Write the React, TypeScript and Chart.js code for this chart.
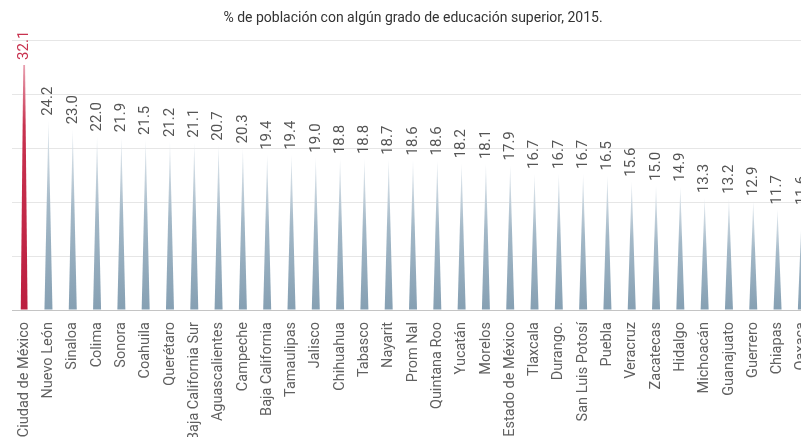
import { useEffect, useRef } from "react";
import { Chart, registerables } from "chart.js";

Chart.register(...registerables);

const title = "% de población con algún grado de educación superior, 2015.";

const categories = [
  "Ciudad de México", "Nuevo León", "Sinaloa", "Colima", "Sonora", "Coahuila",
  "Querétaro", "Baja California Sur", "Aguascalientes", "Campeche", "Baja California",
  "Tamaulipas", "Jalisco", "Chihuahua", "Tabasco", "Nayarit", "Prom Nal",
  "Quintana Roo", "Yucatán", "Morelos", "Estado de México", "Tlaxcala", "Durango.",
  "San Luis Potosí", "Puebla", "Veracruz", "Zacatecas", "Hidalgo", "Michoacán",
  "Guanajuato", "Guerrero", "Chiapas", "Oaxaca",
];

const values = [
  32.1, 24.2, 23.0, 22.0, 21.9, 21.5, 21.2, 21.1, 20.7, 20.3, 19.4,
  19.4, 19.0, 18.8, 18.8, 18.7, 18.6, 18.6, 18.2, 18.1, 17.9, 16.7,
  16.7, 16.7, 16.5, 15.6, 15.0, 14.9, 13.3, 13.2, 12.9, 11.7, 11.6,
];

const highlighted = "Ciudad de México";

const yMin = -2.5;
const yMax = 35.5;
const gridLines = 5;

const FONT = "Roboto, 'Noto Sans', sans-serif";

const needlePlugin = {
  id: "needles",
  afterDatasetsDraw(chart: any) {
    const meta = chart.getDatasetMeta(0);
    const ctx: CanvasRenderingContext2D = chart.ctx;
    ctx.save();
    meta.data.forEach((el: any, i: number) => {
      const { x, y, base, width } = el.getProps(["x", "y", "base", "width"], true);
      const hi = categories[i] === highlighted;
      const grad = ctx.createLinearGradient(0, base, 0, y);
      if (hi) {
        grad.addColorStop(0, "#bc1f40");
        grad.addColorStop(0.75, "#c8324f");
        grad.addColorStop(1, "#e8a0b0");
      } else {
        grad.addColorStop(0, "#86a0b3");
        grad.addColorStop(0.55, "#a3b8c7");
        grad.addColorStop(1, "#e6ecf1");
      }
      ctx.fillStyle = grad;
      ctx.beginPath();
      if (hi) {
        const bw = width * 0.85;
        const tw = 1.8;
        ctx.moveTo(x - bw / 2, base);
        ctx.lineTo(x - tw / 2, y);
        ctx.lineTo(x + tw / 2, y);
        ctx.lineTo(x + bw / 2, base);
      } else {
        ctx.moveTo(x - width / 2, base);
        ctx.lineTo(x, y);
        ctx.lineTo(x + width / 2, base);
      }
      ctx.closePath();
      ctx.fill();

      ctx.save();
      ctx.translate(x, y - 5);
      ctx.rotate(-Math.PI / 2);
      ctx.font = `15px ${FONT}`;
      ctx.fillStyle = hi ? "#c8324f" : "#555555";
      ctx.textAlign = "left";
      ctx.textBaseline = "middle";
      ctx.fillText(values[i].toFixed(1), 0, 0);
      ctx.restore();
    });
    ctx.restore();
  },
};

export default function App() {
  const ref = useRef<HTMLCanvasElement | null>(null);

  useEffect(() => {
    if (!ref.current) return;
    const gridValues = Array.from({ length: gridLines + 1 }, (_, i) => yMin + (i * (yMax - yMin)) / gridLines);
    const chart = new Chart(ref.current, {
      type: "bar",
      data: {
        labels: categories,
        datasets: [
          {
            data: values,
            backgroundColor: "rgba(0,0,0,0)",
            borderWidth: 0,
            barThickness: 8,
            base: yMin,
          } as any,
        ],
      },
      plugins: [needlePlugin],
      options: {
        responsive: false,
        animation: false,
        layout: { padding: { left: 12, right: 2, top: 0, bottom: 0 } },
        plugins: {
          legend: { display: false },
          tooltip: { enabled: false },
          title: {
            display: true,
            text: title,
            color: "#333333",
            font: { family: FONT, size: 14, weight: "normal" },
            padding: { top: 10, bottom: 14 },
          },
        },
        scales: {
          x: {
            type: "category",
            offset: true,
            grid: { display: false },
            border: { display: false },
            ticks: {
              autoSkip: false,
              minRotation: 90,
              maxRotation: 90,
              padding: 4,
              color: "#606060",
              font: { family: FONT, size: 14.5 },
            },
            afterFit: (s: any) => {
              s.height = 127;
              s.paddingLeft = 0;
              s.paddingRight = 0;
            },
          },
          y: {
            min: yMin,
            max: yMax,
            ticks: { display: false },
            border: { display: false },
            grid: {
              drawTicks: false,
              color: (c: any) => (c.index === 0 ? "#c4c4c4" : "#e6e6e6"),
              lineWidth: 1,
            },
            afterFit: (s: any) => {
              s.width = 0;
              s.paddingTop = 0;
              s.paddingBottom = 0;
            },
            afterBuildTicks: (s: any) => {
              s.ticks = gridValues.map((v) => ({ value: v }));
            },
          },
        },
      } as any,
    });
    return () => chart.destroy();
  }, []);

  return (
    <div
      style={{
        position: "fixed",
        left: 0,
        top: 0,
        width: 801,
        height: 437,
        overflow: "hidden",
        background: "#ffffff",
      }}
    >
      <canvas ref={ref} width={816} height={437} style={{ display: "block", width: 816, height: 437 }} />
    </div>
  );
}
